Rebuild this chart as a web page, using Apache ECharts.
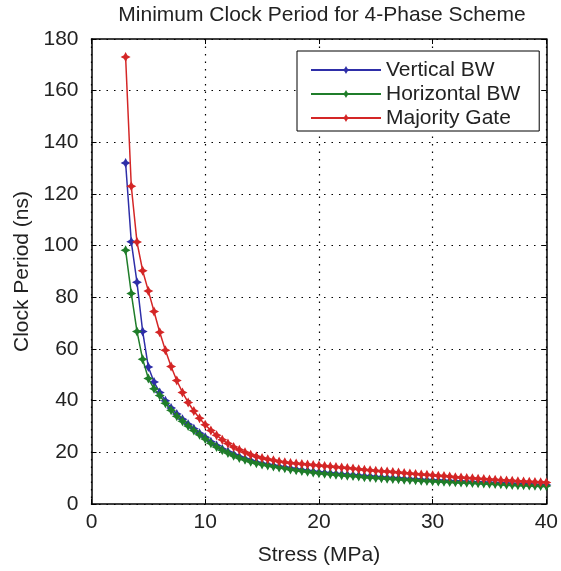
<!DOCTYPE html>
<html><head><meta charset="utf-8">
<script src="https://cdn.jsdelivr.net/npm/echarts@6/dist/echarts.min.js"></script>
<style>html,body{margin:0;padding:0;background:#fff;overflow:hidden}#c{width:100vw;height:100vh}</style>
</head><body><div id="c"></div>
<script>
const stress = [3,3.5,4,4.5,5,5.5,6,6.5,7,7.5,8,8.5,9,9.5,10,10.5,11,11.5,12,12.5,13,13.5,14,14.5,15,15.5,16,16.5,17,17.5,18,18.5,19,19.5,20,20.5,21,21.5,22,22.5,23,23.5,24,24.5,25,25.5,26,26.5,27,27.5,28,28.5,29,29.5,30,30.5,31,31.5,32,32.5,33,33.5,34,34.5,35,35.5,36,36.5,37,37.5,38,38.5,39,39.5,40];
const verticalBW = [132,101.5,85.8,66.8,53,47.2,43.2,40,37.2,34.8,32.8,30.9,29.1,27.4,25.8,24.1,22.6,21.3,20.2,19.2,18.3,17.5,16.8,16.2,15.7,15.3,14.9,14.5,14.2,13.8,13.5,13.2,12.9,12.6,12.3,12.1,11.9,11.7,11.5,11.3,11.2,11.0,10.8,10.7,10.5,10.4,10.2,10.1,10.0,9.8,9.7,9.6,9.4,9.3,9.2,9.1,9.0,8.9,8.8,8.7,8.6,8.5,8.4,8.3,8.2,8.1,8.0,7.9,7.8,7.7,7.7,7.6,7.5,7.4,7.4];
const horizontalBW = [98.2,81.5,66.8,56,48.6,44.6,42,39,36.3,34,32,30.2,28.5,26.8,25.2,23.5,22.1,20.8,19.7,18.7,17.8,17.1,16.4,15.8,15.3,14.9,14.5,14.1,13.8,13.4,13.1,12.8,12.5,12.2,11.9,11.7,11.5,11.3,11.1,10.9,10.8,10.6,10.4,10.3,10.1,10.0,9.8,9.7,9.6,9.4,9.3,9.2,9.0,8.9,8.8,8.7,8.6,8.5,8.4,8.3,8.2,8.1,8.0,7.9,7.8,7.7,7.6,7.5,7.4,7.3,7.3,7.2,7.1,7.0,7.0];
const majorityGate = [173,123,101.4,90.3,82.5,74.5,66.5,59.5,53.2,47.8,43.2,39.3,36,33.2,30.7,28.5,26.6,24.9,23.4,22.1,21,20,19.1,18.4,17.8,17.3,16.9,16.5,16.2,15.9,15.7,15.5,15.3,15.1,14.9,14.7,14.5,14.3,14.1,13.9,13.7,13.5,13.3,13.1,12.9,12.7,12.6,12.4,12.2,12.0,11.8,11.6,11.4,11.3,11.1,10.9,10.8,10.6,10.4,10.3,10.1,10.0,9.8,9.7,9.5,9.4,9.2,9.1,9.0,8.8,8.7,8.6,8.5,8.4,8.3];
const seriesNames = ['Vertical BW','Horizontal BW','Majority Gate'];
const xTicks = {min:0,max:40,interval:10};
const yTicks = {min:0,max:180,interval:20};

const colors = ['#2e2ea8','#1f7d2a','#d42626'];
const star = 'path://M0,-10 L3.5,-3.5 L10,0 L3.5,3.5 L0,10 L-3.5,3.5 L-10,0 L-3.5,-3.5 Z';
const FONT = '"Liberation Sans", Arial, sans-serif';
const pairs = ys => stress.map((x,i)=>[x,ys[i]]);
const all = [verticalBW,horizontalBW,majorityGate];

const chart = echarts.init(document.getElementById('c'), null, {renderer:'canvas'});
const axisCommon = {
  axisLine:{show:true,onZero:false,lineStyle:{color:'#000',width:1.5}},
  axisTick:{show:true,inside:true,length:5,lineStyle:{color:'#000',width:1}},
};
chart.setOption({
  animation:false,
  backgroundColor:'#fff',
  title:{text:'Minimum Clock Period for 4-Phase Scheme',left:317,textAlign:'center',top:0,
    textStyle:{fontFamily:FONT,fontSize:21,fontWeight:'normal',color:'#222'}},
  grid:{left:91.5,right:13,top:39,bottom:62},
  legend:{
    data:seriesNames, orient:'vertical', left:297, top:51,
    padding:[7,19,1,13], itemGap:0, itemWidth:70, itemHeight:10,
    backgroundColor:'#fff', borderColor:'#000', borderWidth:1, borderRadius:0,
    textStyle:{fontFamily:FONT,fontSize:21,color:'#222',lineHeight:24,height:24},
  },
  xAxis:[
    Object.assign({type:'value',position:'bottom',min:xTicks.min,max:xTicks.max,interval:xTicks.interval,
      name:'Stress (MPa)',nameLocation:'middle',nameGap:41,
      nameTextStyle:{fontFamily:FONT,fontSize:21,color:'#222'},
      axisLabel:{fontFamily:FONT,fontSize:21,color:'#222',margin:8},
      splitLine:{show:true,lineStyle:{color:'#000',type:[1.5,6],width:1.2}}},axisCommon),
    Object.assign({type:'value',position:'top',min:xTicks.min,max:xTicks.max,interval:xTicks.interval,
      axisLabel:{show:false},splitLine:{show:false}},axisCommon)
  ],
  yAxis:[
    Object.assign({type:'value',position:'left',min:yTicks.min,max:yTicks.max,interval:yTicks.interval,
      name:'Clock Period (ns)',nameLocation:'middle',nameGap:53,
      nameTextStyle:{fontFamily:FONT,fontSize:21,color:'#222'},
      axisLabel:{fontFamily:FONT,fontSize:21,color:'#222',margin:13},
      splitLine:{show:true,lineStyle:{color:'#000',type:[1.5,6],width:1.2}}},axisCommon),
    Object.assign({type:'value',position:'right',min:yTicks.min,max:yTicks.max,interval:yTicks.interval,
      axisLabel:{show:false},splitLine:{show:false}},axisCommon)
  ],
  series: all.map((ys,i)=>({
    name:seriesNames[i], type:'line', data:pairs(ys), xAxisIndex:0, yAxisIndex:0,
    symbol:star, symbolSize:10, showSymbol:true,
    lineStyle:{color:colors[i],width:1.5},
    itemStyle:{color:colors[i]},
    z:2+i
  }))
});
</script></body></html>
